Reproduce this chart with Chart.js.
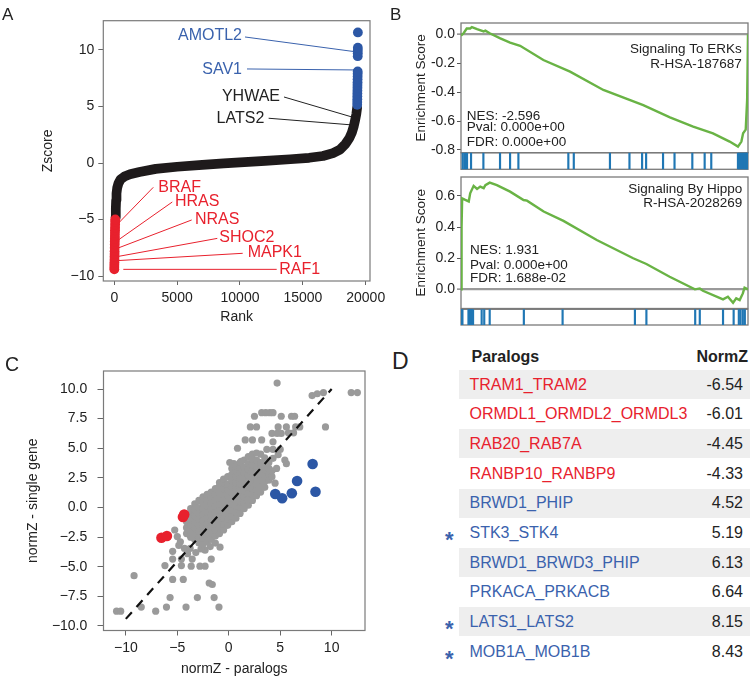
<!DOCTYPE html>
<html>
<head>
<meta charset="utf-8">
<title>Paralog screen figure</title>
<script src="https://cdn.jsdelivr.net/npm/chart.js@4.4.1/dist/chart.umd.min.js"></script>
<style>
html,body{margin:0;padding:0;background:#fff;}
body{width:750px;height:678px;position:relative;overflow:hidden;font-family:"Liberation Sans",Arial,Helvetica,sans-serif;color:#222;}
canvas{position:absolute;}
.panel{position:absolute;line-height:1;color:#222;}
.cell{position:absolute;height:20px;line-height:20px;font-size:16px;white-space:nowrap;}
.shade{position:absolute;background:#eeeeee;}
</style>
</head>
<body>
<canvas id="chartA" width="395" height="330" style="left:0px;top:0px"></canvas>
<canvas id="chartB1" width="370" height="165" style="left:380px;top:0px"></canvas>
<canvas id="chartB1bar" width="370" height="22" style="left:380px;top:150px"></canvas>
<canvas id="chartB2" width="370" height="156" style="left:380px;top:165px"></canvas>
<canvas id="chartB2bar" width="370" height="24" style="left:380px;top:305px"></canvas>
<canvas id="chartC" width="380" height="348" style="left:0px;top:330px"></canvas>
<div id="tableD"></div>
<div class="panel" style="left:2px;top:6px;font-size:17px">A</div>
<div class="panel" style="left:390px;top:6px;font-size:17px">B</div>
<div class="panel" style="left:5px;top:355px;font-size:19.5px">C</div>
<div class="panel" style="left:392px;top:350px;font-size:23px">D</div>
<script>
// ---------------- Panel A data ----------------
const rankTicks = [0, 5000, 10000, 15000, 20000];
const zTicks = [-10, -5, 0, 5, 10];
const curveRank = [100, 120, 145, 175, 230, 330, 500, 800, 1250, 2000, 3300, 5000, 7000, 8700, 10000, 12000, 14000, 15500, 16600, 17400, 17950, 18400, 18700, 18900, 19050, 19150, 19250, 19320];
const curveZ = [-4.8, -4.0, -3.3, -2.7, -2.2, -1.8, -1.45, -1.2, -1.0, -0.8, -0.52, -0.33, -0.16, -0.04, 0.05, 0.19, 0.33, 0.46, 0.62, 0.88, 1.18, 1.7, 2.2, 2.7, 3.25, 3.75, 4.3, 4.9];
const negRank = [2, 5, 8, 11, 15, 18, 22, 26, 30, 34, 38, 42, 46, 50, 55, 60, 65, 70, 75];
const negZ = [-9.4, -9.2, -9.0, -8.8, -8.55, -8.3, -8.05, -7.8, -7.5, -7.2, -6.95, -6.7, -6.45, -6.2, -5.95, -5.7, -5.45, -5.2, -5.0];
const posRank = [19326, 19329, 19332, 19335, 19338, 19341, 19344, 19347, 19350, 19353, 19356, 19359, 19362, 19365, 19368, 19371, 19374, 19377];
const posZ = [5.15, 5.4, 5.65, 5.9, 6.15, 6.4, 6.65, 6.9, 7.15, 7.4, 7.65, 7.9, 8.1, 9.45, 9.7, 9.95, 10.2, 11.55];
// labelled genes (value where the label line points)
const geneNames = ['AMOTL2', 'SAV1', 'YHWAE', 'LATS2', 'BRAF', 'HRAS', 'NRAS', 'SHOC2', 'MAPK1', 'RAF1'];
const geneRank = [19330, 19330, 19000, 19000, 318, 318, 239, 191, 191, 716];
const geneZ = [9.82, 8.23, 4.04, 3.36, -5.34, -6.81, -7.55, -8.29, -8.64, -9.41];

// ---------------- Panel B data ----------------
const erkRunX = [0, 0.009, 0.02, 0.032, 0.038, 0.056, 0.079, 0.085, 0.10, 0.137, 0.171, 0.206, 0.287, 0.38, 0.496, 0.635, 0.728, 0.809, 0.878, 0.936, 0.965, 0.977, 0.983, 0.992, 0.997, 1.0];
const erkRunES = [-0.01, 0.007, 0.04, 0.04, 0.05, 0.035, 0.02, 0.025, 0.007, -0.028, -0.058, -0.08, -0.178, -0.258, -0.385, -0.49, -0.574, -0.638, -0.685, -0.742, -0.777, -0.742, -0.685, -0.66, -0.454, 0.0];
const erkHits = [0.006, 0.012, 0.016, 0.021, 0.035, 0.078, 0.136, 0.171, 0.2, 0.374, 0.393, 0.519, 0.587, 0.631, 0.645, 0.704, 0.744, 0.806, 0.849, 0.872, 0.965, 0.969, 0.973, 0.977, 0.981, 0.985, 0.988, 0.991, 0.994, 0.997, 0.999];
const esTicksERK = [0, -0.2, -0.4, -0.6, -0.8];
const hipRunX = [0, 0.002, 0.004, 0.015, 0.027, 0.032, 0.044, 0.056, 0.067, 0.079, 0.085, 0.1, 0.125, 0.171, 0.218, 0.23, 0.288, 0.357, 0.473, 0.6, 0.646, 0.727, 0.815, 0.832, 0.843, 0.913, 0.93, 0.948, 0.959, 0.971, 0.982, 0.988, 1.0];
const hipRunES = [0, 0.4, 0.585, 0.575, 0.565, 0.617, 0.665, 0.645, 0.66, 0.65, 0.67, 0.686, 0.67, 0.628, 0.574, 0.57, 0.5, 0.44, 0.317, 0.2, 0.163, 0.081, 0.0, 0.006, -0.009, -0.064, -0.047, -0.086, -0.058, -0.069, -0.026, 0.011, 0.0];
const hipHits = [0.001, 0.005, 0.026, 0.029, 0.032, 0.035, 0.038, 0.042, 0.072, 0.081, 0.1, 0.219, 0.354, 0.606, 0.646, 0.816, 0.832, 0.913, 0.95, 0.968, 0.974, 0.982, 0.989];
const esTicksHippo = [0, 0.2, 0.4, 0.6];

// ---------------- Panel C / D data ----------------
const cTicksX = [-10, -5, 0, 5, 10];
const cTicksY = [-10, -7.5, -5, -2.5, 0, 2.5, 5, 7.5, 10];
const regLineX = [-10, 10];
const regLineY = [-9.4, 10];
const paralogNames = ['TRAM1_TRAM2', 'ORMDL1_ORMDL2_ORMDL3', 'RAB20_RAB7A', 'RANBP10_RANBP9', 'BRWD1_PHIP', 'STK3_STK4', 'BRWD1_BRWD3_PHIP', 'PRKACA_PRKACB', 'LATS1_LATS2', 'MOB1A_MOB1B'];
const paralogNormZ = [-6.54, -6.01, -4.45, -4.33, 4.52, 5.19, 6.13, 6.64, 8.15, 8.43];
const paralogSingleZ = [-2.55, -2.4, -0.8, -0.6, 1.14, 0.78, 1.2, 2.24, 3.67, 1.33];
const hippoMember = [false, false, false, false, false, true, false, false, true, true];
const grayPairs = [
  [4.7,10.5],[8.1,9.45],[8.6,9.6],[9.2,9.7],[11.9,9.7],[12.5,9.7],
  [2.5,7.7],[3.2,8.0],[3.6,8.0],[4.0,8.0],[4.3,8.0],[5.1,7.7],[6.1,7.7],[6.4,7.7],
  [2.1,6.8],[2.7,6.8],[4.8,6.8],[5.6,6.8],[6.5,6.8],[6.9,6.8],[9.4,6.8],
  [4.2,6.25],[4.7,6.25],[5.1,6.25],[5.8,6.3],[6.3,6.3],
  [1.6,5.7],[2.3,5.7],[3.2,5.7],[4.3,5.55],
  [0.85,5.0],[3.7,4.9],[4.3,4.9],[5.0,4.9],[4.8,4.45],[5.45,4.0],[5.6,3.7],
  [4.3,4.15],[4.65,3.3],[3.7,3.15],[4.5,2.05],[3.4,2.9],[0.1,3.8],[0.5,3.7],[1.2,3.9],
  [-9.2,-5.75],[-10.9,-8.75],[-10.5,-8.75],[-8.5,-8.4],[-7.1,-8.75],[-6.05,-8.4],[-5.7,-7.6],[-5.45,-6.07],
  [-6.2,-4.9],[-5.45,-4.35],[-4.42,-6.07],[-4.15,-8.4],[-3.05,-7.6],[-1.9,-6.37],[-1.6,-6.5],[-1.42,-7.6],[-0.95,-8.4],
  [-5.45,-3.7],[-4.6,-4.35],[-3.55,-4.35],[-4.6,-4.9],[-3.65,-4.95],[-2.8,-4.95],[-2.3,-4.95],[-1.7,-4.35],[-0.85,-3.35],[-2.3,-3.6],
  [-5.25,-1.9],[-5.0,-2.45],[-4.7,-2.9],[-4.3,-3.45],[-3.75,-3.45],[-4.85,-3.2],[-4.0,-3.9],[-3.2,-3.8],[-2.7,-3.5],[-1.8,-3.3],[-1.3,-3.0],
  [-4.1,-2.2],[-4.1,-1.7],[-4.1,-1.2],[-4.1,-0.8],
  [-3.7,-2.5],[-3.7,-2.0],[-3.7,-1.5],[-3.7,-1.0],[-3.7,-0.5],[-3.7,-0.1],
  [-3.3,-2.7],[-3.3,-2.2],[-3.3,-1.7],[-3.3,-1.2],[-3.3,-0.7],[-3.3,-0.2],[-3.3,0.3],
  [-2.9,-3.0],[-2.9,-2.5],[-2.9,-2.0],[-2.9,-1.5],[-2.9,-1.0],[-2.9,-0.5],[-2.9,0.0],[-2.9,0.6],
  [-2.5,-3.1],[-2.5,-2.6],[-2.5,-2.1],[-2.5,-1.6],[-2.5,-1.1],[-2.5,-0.6],[-2.5,-0.1],[-2.5,0.4],[-2.5,0.9],
  [-2.1,-2.9],[-2.1,-2.4],[-2.1,-1.9],[-2.1,-1.4],[-2.1,-0.9],[-2.1,-0.4],[-2.1,0.1],[-2.1,0.6],[-2.1,1.1],
  [-1.7,-2.7],[-1.7,-2.2],[-1.7,-1.7],[-1.7,-1.2],[-1.7,-0.7],[-1.7,-0.2],[-1.7,0.3],[-1.7,0.8],[-1.7,1.3],
  [-1.3,-2.4],[-1.3,-1.9],[-1.3,-1.4],[-1.3,-0.9],[-1.3,-0.4],[-1.3,0.1],[-1.3,0.6],[-1.3,1.1],[-1.3,1.6],
  [-0.9,-2.2],[-0.9,-1.7],[-0.9,-1.2],[-0.9,-0.7],[-0.9,-0.2],[-0.9,0.3],[-0.9,0.8],[-0.9,1.3],[-0.9,1.8],[-0.9,2.1],
  [-0.5,-1.9],[-0.5,-1.4],[-0.5,-0.9],[-0.5,-0.4],[-0.5,0.1],[-0.5,0.6],[-0.5,1.1],[-0.5,1.6],[-0.5,2.1],[-0.5,2.4],
  [-0.1,-1.5],[-0.1,-1.0],[-0.1,-0.5],[-0.1,0.0],[-0.1,0.5],[-0.1,1.0],[-0.1,1.5],[-0.1,2.0],[-0.1,2.6],
  [0.3,-1.2],[0.3,-0.7],[0.3,-0.2],[0.3,0.3],[0.3,0.8],[0.3,1.3],[0.3,1.8],[0.3,2.3],[0.3,2.8],[0.3,3.3],
  [0.7,-0.9],[0.7,-0.4],[0.7,0.1],[0.7,0.6],[0.7,1.1],[0.7,1.6],[0.7,2.1],[0.7,2.6],[0.7,3.1],[0.7,3.5],
  [1.1,-0.5],[1.1,0.0],[1.1,0.5],[1.1,1.0],[1.1,1.5],[1.1,2.0],[1.1,2.5],[1.1,3.0],[1.1,3.4],[1.1,3.8],
  [1.5,-0.1],[1.5,0.4],[1.5,0.9],[1.5,1.4],[1.5,1.9],[1.5,2.4],[1.5,2.9],[1.5,3.4],[1.5,4.0],
  [1.9,0.2],[1.9,0.7],[1.9,1.2],[1.9,1.7],[1.9,2.2],[1.9,2.7],[1.9,3.2],[1.9,3.7],[1.9,4.3],
  [2.3,0.6],[2.3,1.1],[2.3,1.6],[2.3,2.1],[2.3,2.6],[2.3,3.1],[2.3,3.6],[2.3,4.1],[2.3,4.5],
  [2.7,1.0],[2.7,1.5],[2.7,2.0],[2.7,2.5],[2.7,3.0],[2.7,3.5],[2.7,4.0],[2.7,4.6],
  [3.1,1.3],[3.1,1.8],[3.1,2.3],[3.1,2.8],[3.1,3.3],[3.1,3.8],[3.1,4.5],
  [3.5,1.7],[3.5,2.2],[3.5,2.7],[3.5,3.2],[3.5,3.7],[3.5,4.2],
  [3.9,2.3],[3.9,2.8],[3.9,3.3],[3.9,3.8],[4.2,2.6],[4.2,3.1]
];

// ---------------- styles ----------------
const FONT = '"Liberation Sans", Arial, Helvetica, sans-serif';
const RED = '#e8212d', BLUE_TXT = '#3a62ad', BLUE_DOT = '#2c57a5', GREEN = '#69b345';
const BARC = '#2077b4', GRAY_PT = '#9a9a9a', FRAME = '#7a7a7a', INK = '#222222';
Chart.defaults.font.family = FONT;
Chart.defaults.color = INK;
Chart.defaults.animation = false;
Chart.defaults.plugins.legend.display = false;
Chart.defaults.plugins.tooltip.enabled = false;

const minus = v => (v < 0 ? '\u2212' : '') + Math.abs(v);
const setTicks = arr => s => { s.ticks = arr.map(v => ({value: v})); };

const framePlugin = {
  id: 'frame',
  beforeDatasetsDraw(chart, args, opts) {
    const a = chart.chartArea, ctx = chart.ctx;
    ctx.save();
    ctx.strokeStyle = opts.color || FRAME;
    ctx.lineWidth = opts.width || 1.2;
    ctx.strokeRect(a.left, a.top, a.right - a.left, a.bottom - a.top);
    ctx.restore();
  }
};
function notesPlugin(items) {
  return {
    id: 'notes',
    afterDatasetsDraw(chart) {
      const {ctx, scales: {x, y}} = chart;
      items.forEach(t => {
        ctx.save();
        ctx.font = (t.size || 13.5) + 'px ' + FONT;
        ctx.fillStyle = t.color || INK;
        ctx.textAlign = t.align || 'left';
        ctx.textBaseline = 'middle';
        ctx.fillText(t.text, x.getPixelForValue(t.x), y.getPixelForValue(t.y));
        ctx.restore();
      });
    }
  };
}
function axisTicksGrid(len) {
  return {display: true, drawOnChartArea: false, drawTicks: true, tickLength: len, tickColor: '#666', tickWidth: 1};
}

// ---------------- Panel A ----------------
const geneColor = [BLUE_TXT, BLUE_TXT, INK, INK, RED, RED, RED, RED, RED, RED];
// label anchor (text) and line start, in data units
const geneLabelAt = [[10159, 11.24, 'right', 10398, 11.15], [10159, 8.23, 'right', 10557, 8.32], [13182, 5.84, 'right', 13500, 5.84], [11933, 3.89, 'right', 12276, 3.96],
  [3500, -2.15, 'left', 3103, -2.15], [4829, -3.42, 'left', 4614, -3.45], [6420, -4.98, 'left', 6157, -5.04], [8353, -6.58, 'left', 8194, -6.67], [10612, -7.94, 'left', 10215, -7.99], [13126, -9.41, 'left', 12920, -9.41]];
const genePlugin = {
  id: 'genes',
  beforeDatasetsDraw(chart) {
    const {ctx, scales: {x, y}} = chart;
    ctx.save();
    ctx.lineWidth = 1;
    geneNames.forEach((g, i) => {
      const L = geneLabelAt[i];
      ctx.strokeStyle = geneColor[i];
      ctx.beginPath();
      ctx.moveTo(x.getPixelForValue(L[3]), y.getPixelForValue(L[4]));
      ctx.lineTo(x.getPixelForValue(geneRank[i]), y.getPixelForValue(geneZ[i]));
      ctx.stroke();
    });
    ctx.restore();
  },
  afterDatasetsDraw(chart) {
    const {ctx, scales: {x, y}} = chart;
    ctx.save();
    ctx.font = '16px ' + FONT;
    ctx.textBaseline = 'middle';
    geneNames.forEach((g, i) => {
      const L = geneLabelAt[i];
      ctx.fillStyle = geneColor[i];
      ctx.textAlign = L[2];
      ctx.fillText(g, x.getPixelForValue(L[0]), y.getPixelForValue(L[1]));
    });
    ctx.restore();
  }
};
new Chart(document.getElementById('chartA'), {
  type: 'scatter',
  data: {datasets: [
    {data: negRank.map((r, i) => ({x: r, y: negZ[i]})), backgroundColor: RED, pointRadius: 4.9, pointBorderWidth: 0},
    {data: posRank.map((r, i) => ({x: r, y: posZ[i]})), backgroundColor: BLUE_DOT, pointRadius: 4.9, pointBorderWidth: 0},
    {data: curveRank.map((r, i) => ({x: r, y: curveZ[i]})), showLine: true, borderColor: '#1e1a1b', borderWidth: 9.7,
      borderCapStyle: 'round', borderJoinStyle: 'round', pointRadius: 0, tension: 0}
  ]},
  options: {
    responsive: false, devicePixelRatio: 1,
    layout: {padding: {left: 0, top: 20.7, right: 25, bottom: 0}},
    scales: {
      x: {type: 'linear', min: -875, max: 20342, afterBuildTicks: setTicks(rankTicks), afterFit: s => { s.height = 49; },
        grid: axisTicksGrid(4), border: {display: false},
        ticks: {font: {size: 14}, padding: 4.6, autoSkip: false, maxRotation: 0, callback: v => String(v)},
        title: {display: true, text: 'Rank', font: {size: 14}, padding: {top: 0, bottom: 4.6}}},
      y: {type: 'linear', min: -10.44, max: 12.59, afterBuildTicks: setTicks(zTicks), afterFit: s => { s.width = 103.3; },
        grid: axisTicksGrid(5), border: {display: false},
        ticks: {font: {size: 14}, padding: 4, callback: v => minus(v)},
        title: {display: true, text: 'Zscore', font: {size: 14}, padding: {top: 39.6, bottom: 0}}}
    },
    plugins: {frame: {color: FRAME, width: 1.2}}
  },
  plugins: [framePlugin, genePlugin]
});

// ---------------- Panel B ----------------
function zeroGrid() {
  return {display: true, drawOnChartArea: true, drawTicks: true, tickLength: 4, tickColor: '#555', tickWidth: 1,
    color: c => (c.tick && c.tick.value === 0) ? '#9a9a9a' : 'rgba(0,0,0,0)',
    lineWidth: c => (c.tick && c.tick.value === 0) ? 2.2 : 1};
}
function gseaChart(id, xs, es, ticks, ymin, ymax, pad, notes) {
  return new Chart(document.getElementById(id), {
    type: 'scatter',
    data: {datasets: [{data: xs.map((v, i) => ({x: v, y: es[i]})), showLine: true, borderColor: GREEN, borderWidth: 2.4, pointRadius: 0, tension: 0}]},
    options: {
      responsive: false, devicePixelRatio: 1,
      layout: {padding: pad},
      scales: {
        x: {type: 'linear', min: 0, max: 1, display: false},
        y: {type: 'linear', min: ymin, max: ymax, afterBuildTicks: setTicks(ticks), afterFit: s => { s.width = 81; },
          grid: zeroGrid(), border: {display: false},
          ticks: {font: {size: 14}, padding: 2, callback: v => v === 0 ? '0.0' : v.toFixed(1)},
          title: {display: true, text: 'Enrichment Score', font: {size: 13.5}, padding: {top: 33.6, bottom: 0}}}
      },
      plugins: {frame: {color: FRAME, width: 1.3}}
    },
    plugins: [framePlugin, notesPlugin(notes)]
  });
}
function barcodeChart(id, hits, pad) {
  return new Chart(document.getElementById(id), {
    type: 'bar',
    data: {datasets: [{data: hits.map(h => ({x: h, y: 1})), backgroundColor: BARC, borderWidth: 0,
      barThickness: 1.5, grouped: false}]},
    options: {
      responsive: false, devicePixelRatio: 1,
      layout: {padding: pad},
      scales: {x: {type: 'linear', min: 0, max: 1, display: false, offset: false}, y: {type: 'linear', min: 0, max: 1, display: false}},
      plugins: {frame: {color: FRAME, width: 1.3}}
    },
    plugins: [framePlugin]
  });
}
gseaChart('chartB1', erkRunX, erkRunES, esTicksERK, -0.819, 0.078, {left: 0, right: 2, top: 23, bottom: 12.3}, [
  {text: 'Signaling To ERKs', x: 0.978, y: -0.104, align: 'right'},
  {text: 'R-HSA-187687', x: 0.978, y: -0.207, align: 'right'},
  {text: 'NES: -2.596', x: 0.02, y: -0.57},
  {text: 'Pval: 0.000e+00', x: 0.02, y: -0.646},
  {text: 'FDR: 0.000e+00', x: 0.02, y: -0.747}
]);
barcodeChart('chartB1bar', erkHits, {left: 81, right: 2, top: 2.7, bottom: 2.7});
gseaChart('chartB2', hipRunX, hipRunES, esTicksHippo, -0.123, 0.722, {left: 0, right: 2, top: 12, bottom: 12.5}, [
  {text: 'Signaling By Hippo', x: 0.98, y: 0.643, align: 'right'},
  {text: 'R-HSA-2028269', x: 0.98, y: 0.553, align: 'right'},
  {text: 'NES: 1.931', x: 0.031, y: 0.248},
  {text: 'Pval: 0.000e+00', x: 0.031, y: 0.156},
  {text: 'FDR: 1.688e-02', x: 0.031, y: 0.071}
]);
barcodeChart('chartB2bar', hipHits, {left: 81, right: 2, top: 4.3, bottom: 4});

// ---------------- Panel C ----------------
const negIdx = paralogNormZ.map((v, i) => i).filter(i => paralogNormZ[i] < 0);
const posIdx = paralogNormZ.map((v, i) => i).filter(i => paralogNormZ[i] > 0);
new Chart(document.getElementById('chartC'), {
  type: 'scatter',
  data: {datasets: [
    {data: negIdx.map(i => ({x: paralogNormZ[i], y: paralogSingleZ[i]})), backgroundColor: RED, pointRadius: 5.3, pointBorderWidth: 0},
    {data: posIdx.map(i => ({x: paralogNormZ[i], y: paralogSingleZ[i]})), backgroundColor: BLUE_DOT, pointRadius: 5.3, pointBorderWidth: 0},
    {data: regLineX.map((v, i) => ({x: v, y: regLineY[i]})), showLine: true, borderColor: '#111', borderWidth: 2.2, borderDash: [9, 7], pointRadius: 0},
    {data: grayPairs.map(p => ({x: p[0], y: p[1]})), backgroundColor: GRAY_PT, pointRadius: 3.6, pointBorderWidth: 0}
  ]},
  options: {
    responsive: false, devicePixelRatio: 1,
    layout: {padding: {left: 0, top: 41, right: 15, bottom: 0}},
    scales: {
      x: {type: 'linear', min: -12.17, max: 13.24, afterBuildTicks: setTicks(cTicksX), afterFit: s => { s.height = 47.5; },
        grid: axisTicksGrid(5), border: {display: false},
        ticks: {font: {size: 14}, padding: 4.4, autoSkip: false, maxRotation: 0, callback: v => minus(v)},
        title: {display: true, text: 'normZ - paralogs', font: {size: 14}, padding: {top: 0, bottom: 0.3}}},
      y: {type: 'linear', min: -10.38, max: 11.52, afterBuildTicks: setTicks(cTicksY), afterFit: s => { s.width = 103.5; },
        grid: axisTicksGrid(6), border: {display: false},
        ticks: {font: {size: 14}, padding: 10.2, callback: v => (v < 0 ? '\u2212' : '') + Math.abs(v).toFixed(1)},
        title: {display: true, text: 'normZ - single gene', font: {size: 14}, padding: {top: 24.9, bottom: 0}}}
    },
    plugins: {frame: {color: FRAME, width: 1.2}}
  },
  plugins: [framePlugin]
});

// ---------------- Panel D (table) ----------------
const tD = document.getElementById('tableD');
function addDiv(cls, css, text) {
  const d = document.createElement('div');
  d.className = cls;
  Object.assign(d.style, css);
  if (text !== undefined) d.textContent = text;
  tD.appendChild(d);
  return d;
}
addDiv('cell', {left: '471.5px', top: '347px', fontWeight: 'bold', color: INK}, 'Paralogs');
addDiv('cell', {right: '2px', top: '347px', fontWeight: 'bold', color: INK}, 'NormZ');
paralogNames.forEach((name, i) => {
  const cy = 384.5 + i * 29.67;
  if (i % 2 === 0) addDiv('shade', {left: '459px', top: (cy - 14.5) + 'px', width: '291px', height: '29px'});
  const col = paralogNormZ[i] < 0 ? RED : BLUE_TXT;
  addDiv('cell', {left: '469.5px', top: (cy - 10) + 'px', color: col}, name);
  addDiv('cell', {right: '7px', top: (cy - 10) + 'px', color: INK}, paralogNormZ[i].toFixed(2));
  if (hippoMember[i]) addDiv('cell', {left: '445px', top: (cy - 3) + 'px', color: BLUE_TXT, fontSize: '22px', fontWeight: 'bold'}, '*');
});
</script>
</body>
</html>
